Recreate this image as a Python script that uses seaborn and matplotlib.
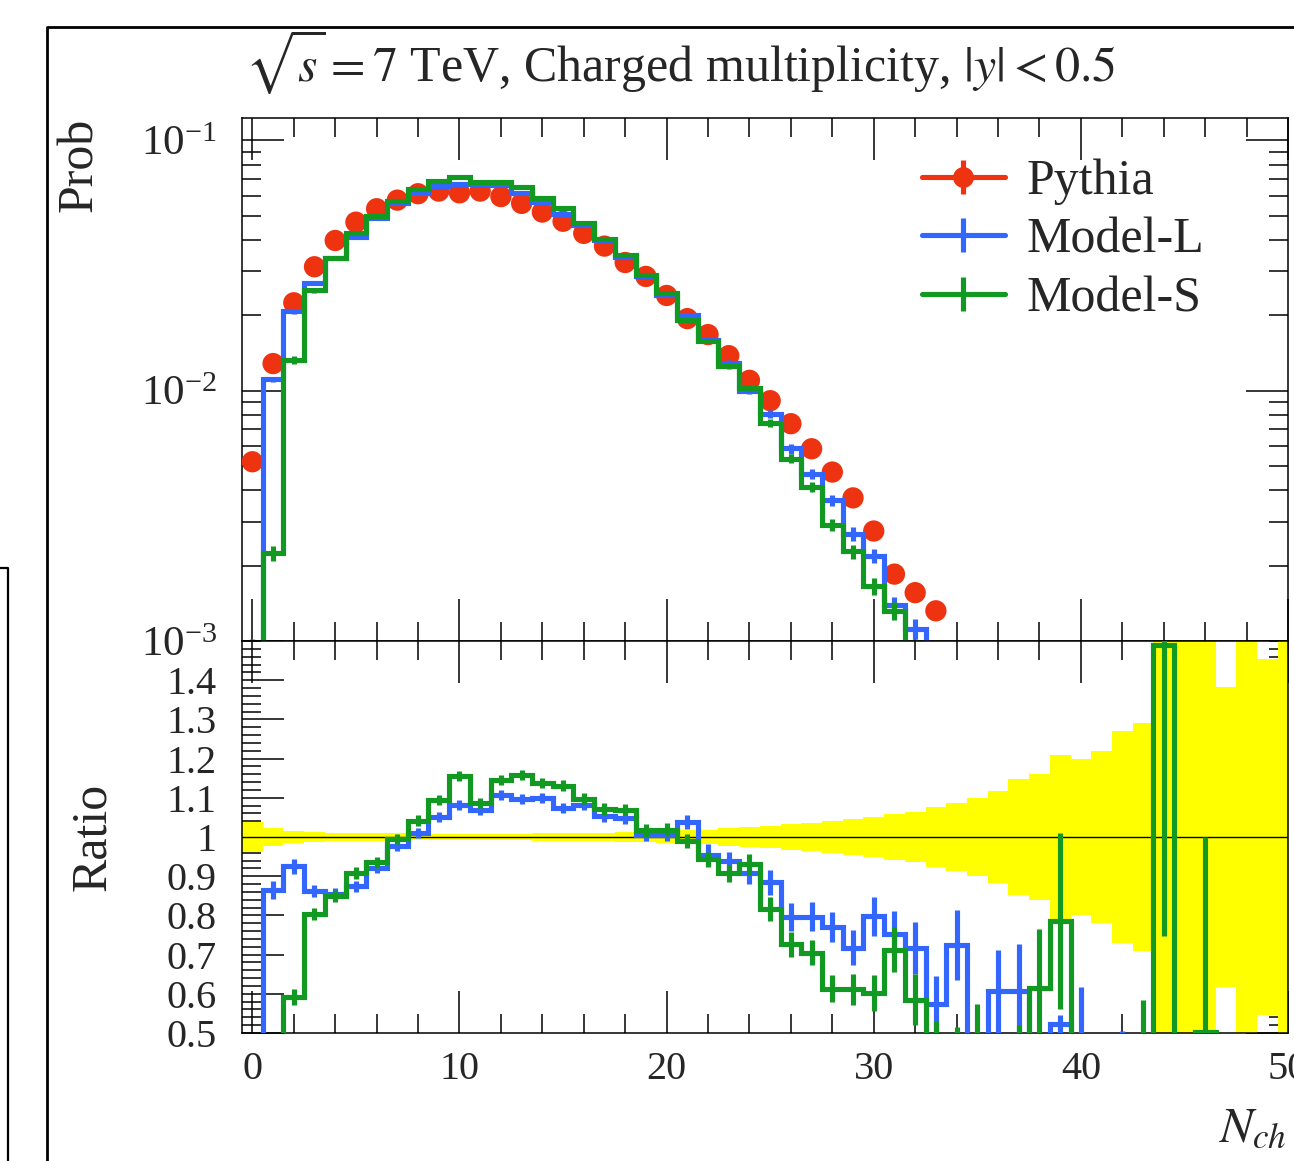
import numpy as np
import matplotlib
matplotlib.use("Agg")
import matplotlib.pyplot as plt
import seaborn as sns
from matplotlib.lines import Line2D
from matplotlib.ticker import MultipleLocator, LogLocator, FixedLocator, FuncFormatter, NullFormatter

# --- values ---
n_ch = np.arange(51)                      # bin centres 0..50 (unit bins)
pythia_n = np.arange(34)                  # Pythia points visible in the top panel
pythia_prob = [0.0052, 0.01283, 0.02244, 0.03126, 0.0398, 0.0471, 0.0533, 0.0577,
               0.0612, 0.0627, 0.0617, 0.0627, 0.0596, 0.0560, 0.0517, 0.0475,
               0.0425, 0.0378, 0.0325, 0.0286, 0.0240, 0.0194, 0.01675, 0.0138,
               0.0110, 0.00912, 0.00738, 0.00586, 0.00473, 0.00373, 0.00275,
               0.00185, 0.00156, 0.00132]
# relative stat. uncertainty of Pythia (yellow band)
pythia_relerr = [0.037, 0.023, 0.016, 0.012, 0.011, 0.010, 0.009, 0.009, 0.008, 0.008,
                 0.008, 0.008, 0.008, 0.008, 0.009, 0.009, 0.010, 0.011, 0.012, 0.014,
                 0.016, 0.017, 0.019, 0.022, 0.026, 0.028, 0.032, 0.035, 0.041, 0.046,
                 0.052, 0.059, 0.065, 0.076, 0.088, 0.100, 0.118, 0.148, 0.161, 0.210,
                 0.200, 0.220, 0.270, 0.290, 0.600, 0.700, 0.600, 0.383, 0.600, 0.455,
                 0.600]
model_l_ratio = [0.17, 0.864, 0.925, 0.862, 0.855, 0.874, 0.921, 0.978, 1.010, 1.051,
                 1.082, 1.070, 1.108, 1.097, 1.100, 1.074, 1.082, 1.054, 1.048, 1.005,
                 1.006, 1.038, 0.955, 0.938, 0.907, 0.885, 0.796, 0.796, 0.770, 0.718,
                 0.798, 0.752, 0.716, 0.575, 0.725, 0.30, 0.606, 0.607, 0.30, 0.522,
                 0.40, 0.0, 0.30, 0.0, 0.0, 0.0, 0.0, 0.0, 0.0, 0.0, 0.0]
model_l_err = [0.025, 0.023, 0.020, 0.016, 0.015, 0.015, 0.014, 0.013, 0.013, 0.013,
               0.013, 0.013, 0.013, 0.013, 0.013, 0.014, 0.014, 0.015, 0.015, 0.016,
               0.017, 0.017, 0.026, 0.024, 0.027, 0.032, 0.036, 0.037, 0.039, 0.045,
               0.050, 0.059, 0.066, 0.070, 0.090, 0.0, 0.106, 0.120, 0.0, 0.025,
               0.218, 0.0, 0.205, 0.0, 0.0, 0.0, 0.0, 0.0, 0.0, 0.0, 0.0]
model_s_ratio = [0.05, 0.175, 0.592, 0.804, 0.849, 0.908, 0.935, 0.995, 1.042, 1.094,
                 1.155, 1.087, 1.145, 1.159, 1.138, 1.131, 1.097, 1.071, 1.070, 1.017,
                 1.019, 0.989, 0.943, 0.907, 0.930, 0.817, 0.726, 0.705, 0.613, 0.611,
                 0.602, 0.713, 0.585, 0.45, 0.45, 0.45, 0.30, 0.42, 0.615, 0.786,
                 0.20, 0.0, 0.0, 0.30, 1.49, 0.0, 0.503, 0.0, 0.0, 0.0, 0.0]
model_s_err = [0.020, 0.012, 0.021, 0.016, 0.015, 0.015, 0.014, 0.013, 0.013, 0.013,
               0.013, 0.013, 0.013, 0.013, 0.013, 0.014, 0.014, 0.015, 0.015, 0.016,
               0.017, 0.018, 0.020, 0.022, 0.026, 0.031, 0.032, 0.032, 0.034, 0.039,
               0.046, 0.058, 0.065, 0.080, 0.065, 0.125, 0.0, 0.100, 0.150, 0.225,
               0.0, 0.0, 0.0, 0.284, 0.743, 0.0, 0.497, 0.0, 0.0, 0.0, 0.0]

RED, BLUE, GREEN, YELLOW = "#EE3311", "#3366FF", "#119922", "#FFFF00"
LW = 3.7

sns.set_theme(style="ticks")
plt.rcParams["font.family"] = ["Liberation Serif", "DejaVu Serif"]
plt.rcParams["mathtext.fontset"] = "stix"
plt.rcParams["axes.edgecolor"] = "black"

W, H = 1294, 1161
fig = plt.figure(figsize=(W / 100, H / 100), dpi=100)


def px_rect(left, top, right, bottom):
    return [left / W, 1 - bottom / H, (right - left) / W, (bottom - top) / H]


ax_top = fig.add_axes(px_rect(242, 118, 1288, 641))
ax_rat = fig.add_axes(px_rect(242, 641, 1288, 1033), sharex=ax_top)

edges = np.arange(-0.5, 51.0, 1.0)
p_prob = np.array(pythia_prob)
k = len(p_prob)

# --- top panel ---
sns.scatterplot(x=pythia_n, y=p_prob, ax=ax_top, color=RED, s=235,
                edgecolor="none", zorder=3, legend=False)
ax_top.errorbar(pythia_n, p_prob, yerr=p_prob * np.array(pythia_relerr[:k]),
                fmt="none", ecolor=RED, elinewidth=LW, zorder=3)
for ratio, err, col, z in [(model_l_ratio, model_l_err, BLUE, 4),
                           (model_s_ratio, model_s_err, GREEN, 5)]:
    prob = p_prob * np.array(ratio[:k])
    ax_top.stairs(prob, edges[:k + 1], baseline=1e-6, color=col, lw=LW, zorder=z)
    ax_top.errorbar(pythia_n, prob, yerr=p_prob * np.array(err[:k]), fmt="none",
                    ecolor=col, elinewidth=LW, zorder=z)

ax_top.set_yscale("log")
ax_top.set_ylim(1e-3, 0.1228)
ax_top.yaxis.set_minor_locator(LogLocator(base=10, subs=np.arange(2, 10), numticks=20))
ax_top.yaxis.set_minor_formatter(NullFormatter())
plt.setp(ax_top.get_xticklabels(), visible=False)

# --- ratio panel ---
rel = np.array(pythia_relerr)
ax_rat.bar(n_ch, 2 * rel, bottom=1 - rel, width=1.0, color=YELLOW, linewidth=0, zorder=1)
ax_rat.axhline(1.0, color="black", lw=1.0, zorder=2)
for ratio, err, col, z in [(model_l_ratio, model_l_err, BLUE, 3),
                           (model_s_ratio, model_s_err, GREEN, 4)]:
    ax_rat.stairs(ratio, edges, baseline=None, color=col, lw=LW, zorder=z)
    ax_rat.errorbar(n_ch, ratio, yerr=err, fmt="none", ecolor=col, elinewidth=LW, zorder=z)

ax_rat.set_ylim(0.5, 1.5)
ax_rat.yaxis.set_major_locator(FixedLocator(np.round(np.arange(0.5, 1.45, 0.1), 2)))
ax_rat.yaxis.set_minor_locator(MultipleLocator(0.02))
ax_rat.yaxis.set_major_formatter(FuncFormatter(lambda v, p: f"{v:g}"))

ax_rat.set_xlim(-0.5, 50)
ax_rat.xaxis.set_major_locator(MultipleLocator(10))
ax_rat.xaxis.set_minor_locator(MultipleLocator(2))

for ax in (ax_top, ax_rat):
    ax.set_facecolor("white")
    ax.tick_params(which="both", direction="in", top=True, right=True, width=1.1,
                   color="black")
    ax.tick_params(which="major", length=30, labelsize=29)
    ax.tick_params(which="minor", length=13.5)
    ax.tick_params(axis="y", pad=18)
    ax.tick_params(axis="x", pad=13)
    for sp in ax.spines.values():
        sp.set_linewidth(1.1)
        sp.set_color("black")
ax_top.tick_params(axis="y", labelsize=31)

# --- texts ---
fig.text(245 / W, 1 - 81 / H, r"$\sqrt{s} = 7$ TeV, Charged multiplicity, $|y|<0.5$",
         ha="left", va="baseline", fontsize=36)
fig.text(80 / W, 1 - 118 / H, "Prob", rotation=90, ha="center", va="top", fontsize=36)
fig.text(93 / W, 1 - 837 / H, "Ratio", rotation=90, ha="center", va="center", fontsize=36)
fig.text(1287 / W, 1 - 1141 / H, r"$N_{ch}$", ha="right", va="baseline", fontsize=36)

handles = []
for col, mk in [(RED, "o"), (BLUE, None), (GREEN, None)]:
    line = Line2D([], [], color=col, lw=LW, marker=mk, markersize=15, markeredgewidth=0)
    bar = Line2D([], [], color=col, ls="none", marker="|", markersize=25,
                 markeredgewidth=LW)
    handles.append((line, bar))
fig.legend(handles, ["Pythia", "Model-L", "Model-S"], loc="upper left",
           bbox_to_anchor=(922 / W, 1 - 159 / H), frameon=False, fontsize=36,
           borderpad=0, borderaxespad=0, handlelength=1.65, handletextpad=0.45,
           labelspacing=0.24)

# --- frame pieces of the surrounding canvas ---
fig.add_artist(Line2D([47 / W, 47 / W, 1.01], [-0.01, 1 - 27 / H, 1 - 27 / H],
                      transform=fig.transFigure, color="black", lw=2.0))
fig.add_artist(Line2D([-0.01, 8 / W, 8 / W], [1 - 568 / H, 1 - 568 / H, -0.01],
                      transform=fig.transFigure, color="black", lw=1.6))

fig.savefig("out.png", dpi=100, facecolor="white")
